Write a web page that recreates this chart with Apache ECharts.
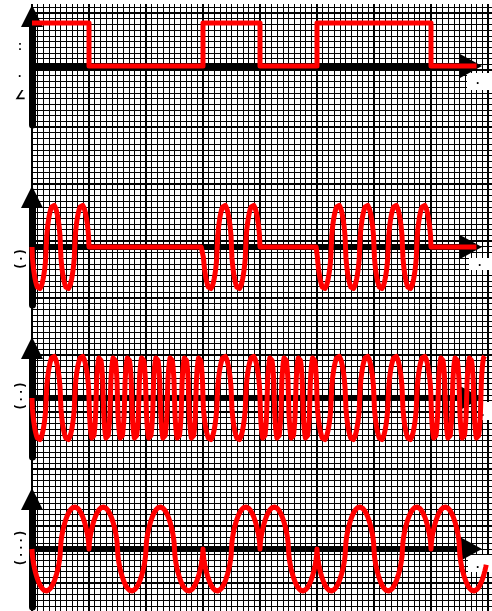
<!DOCTYPE html>
<html>
<head>
<meta charset="utf-8">
<script src="https://cdn.jsdelivr.net/npm/echarts@6/dist/echarts.min.js"></script>
<style>html,body{margin:0;padding:0;background:#fff}#c{width:492px;height:611px}</style>
</head>
<body>
<div id="c"></div>
<script>
// ---- data ----
// bit sequence, one bit per major grid square
const bits = [1, 0, 0, 1, 0, 1, 1, 0];
// carrier cycles per bit
const askCycles = 2;          // ASK: carrier on for 1, off for 0
const fskCyclesOne = 2;       // FSK: low frequency for 1
const fskCyclesZero = 4;      // FSK: high frequency for 0
const pskCycles = 1;          // PSK: phase flips between 1 and 0
// where each trace stops (in bit units)
const traceEnds = [7.8, 7.8, 7.94, 7.97];
// hand-drawn carriers have rounder crests than a pure sine
const crestShape = 0.6;

// ---- layout ----
const PX = 57;           // px per bit (major square)
const LEFT = 32;
const AXIS_END = 471;    // centre of x arrow
const ARROW = 22;
const panels = [
  {base: 66,  tip: 5,   bottom: 125, amp: 43},
  {base: 247, tip: 186, bottom: 305, amp: 42},
  {base: 398, tip: 337, bottom: 457, amp: 42},
  {base: 549, tip: 488, bottom: 607, amp: 42}
];

function bitAt(t) { return bits[Math.min(Math.floor(t), bits.length - 1)]; }
function wave(x) { const s = Math.sin(x); return Math.sign(s) * Math.pow(Math.abs(s), crestShape); }
const STEP = 1 / 128;
function sample(end, fn) {
  const out = [];
  const n = Math.floor(end / STEP);
  for (let i = 0; i <= n; i++) { const t = i * STEP; out.push([t, fn(t)]); }
  out.push([end, fn(end)]);
  return out;
}
const digital = bits.map((b, i) => [i, b]).concat([[traceEnds[0], bits[bits.length - 1]]]);
const ask = sample(traceEnds[1], t => bitAt(t) ? -wave(2 * Math.PI * askCycles * t) : 0);
const fsk = sample(traceEnds[2], t => -wave(2 * Math.PI * (bitAt(t) ? fskCyclesOne : fskCyclesZero) * t));
const psk = sample(traceEnds[3], t => (bitAt(t) ? -1 : 1) * wave(2 * Math.PI * pskCycles * t));
const traces = [digital, ask, fsk, psk];

const hidden = {axisLine: {show: false}, axisTick: {show: false}, axisLabel: {show: false}, splitLine: {show: false}};
const grids = [{left: LEFT, right: 492 - (LEFT + 9 * PX), top: -44, bottom: -29, z: 0,
  outerBoundsMode: 'none', containLabel: false}];
const xAxes = [{
  gridIndex: 0, type: 'value', min: 0, max: 9, interval: 1, z: 0,
  axisLine: {show: false}, axisTick: {show: false}, axisLabel: {show: false},
  splitLine: {show: true, lineStyle: {color: '#000', width: 2}},
  minorTick: {show: false, splitNumber: 10},
  minorSplitLine: {show: true, lineStyle: {color: '#000', width: 1}}
}];
const yAxes = [{
  gridIndex: 0, type: 'value', min: 0, max: 12, interval: 1, z: 0,
  axisLine: {show: false}, axisTick: {show: false}, axisLabel: {show: false},
  splitLine: {show: true, lineStyle: {color: '#000', width: 2}},
  minorTick: {show: false, splitNumber: 10},
  minorSplitLine: {show: true, lineStyle: {color: '#000', width: 1}}
}];
const series = [];
panels.forEach((p, i) => {
  const top = p.tip + ARROW / 2;
  const yMin = -(p.bottom - p.base) / p.amp, yMax = (p.base - top) / p.amp;
  // axis grid (arrowed axes)
  grids.push({left: LEFT, width: AXIS_END - LEFT, top: top, height: p.bottom - top,
    outerBoundsMode: 'none', containLabel: false});
  const ag = grids.length - 1;
  xAxes.push({
    gridIndex: ag, type: 'value', min: 0, max: (AXIS_END - LEFT) / PX, z: 3,
    axisLine: {show: true, onZero: true, symbol: ['none', 'triangle'], symbolSize: [24, ARROW],
      lineStyle: {color: '#000', width: 6}},
    axisTick: {show: false}, axisLabel: {show: false}, splitLine: {show: false}
  });
  yAxes.push({
    gridIndex: ag, type: 'value', min: yMin, max: yMax, z: 3,
    axisLine: {show: true, onZero: false, symbol: ['none', 'triangle'], symbolSize: [22, ARROW],
      lineStyle: {color: '#000', width: 7}},
    axisTick: {show: false}, axisLabel: {show: false}, splitLine: {show: false}
  });
  // data grid: same vertical scale, 8 bit-widths wide
  grids.push({left: LEFT, width: 8 * PX, top: top, height: p.bottom - top,
    outerBoundsMode: 'none', containLabel: false});
  const dg = grids.length - 1;
  xAxes.push(Object.assign({gridIndex: dg, type: 'value', min: 0, max: 8}, hidden));
  yAxes.push(Object.assign({gridIndex: dg, type: 'value', min: yMin, max: yMax}, hidden));
  series.push({
    type: 'line', xAxisIndex: xAxes.length - 1, yAxisIndex: yAxes.length - 1, data: traces[i],
    step: i === 0 ? 'end' : false, showSymbol: false, symbol: 'none', clip: false,
    z: 5, silent: true, animation: false,
    lineStyle: {color: '#ff0000', width: 5, join: 'round'}
  });
});

const txt = (x, y, s, rot, size) => ({type: 'text', x: x, y: y, rotation: rot || 0, z: 4,
  style: {text: s, fill: '#000', font: (size ? size : 11) + 'px "DejaVu Sans"', fontWeight: 'bold',
    align: 'center', verticalAlign: 'middle'}});
const white = (x, y, w, h) => ({type: 'rect', shape: {x: x, y: y, width: w, height: h}, z: 2, style: {fill: '#fff'}});
const graphic = [
  white(0, 0, 492, 4),
  white(467, 73, 25, 17), white(469, 258, 23, 12), white(480, 402, 12, 18), white(468, 555, 24, 17),
  txt(478, 84, '·'), txt(480, 266, '·'), txt(483, 416, '·'), txt(478, 568, '·'),
  txt(20, 47, ':'), txt(20, 77, '·'), txt(20, 96, '∠'),
  txt(20, 259, '( · )', -Math.PI / 2, 12), txt(20, 396, '( · · )', -Math.PI / 2, 12),
  txt(20, 548, '( · · · )', -Math.PI / 2, 12)
];

const chart = echarts.init(document.getElementById('c'), null, {renderer: 'canvas'});
chart.setOption({
  animation: false,
  grid: grids, xAxis: xAxes, yAxis: yAxes, series: series, graphic: {elements: graphic}
});
</script>
</body>
</html>
